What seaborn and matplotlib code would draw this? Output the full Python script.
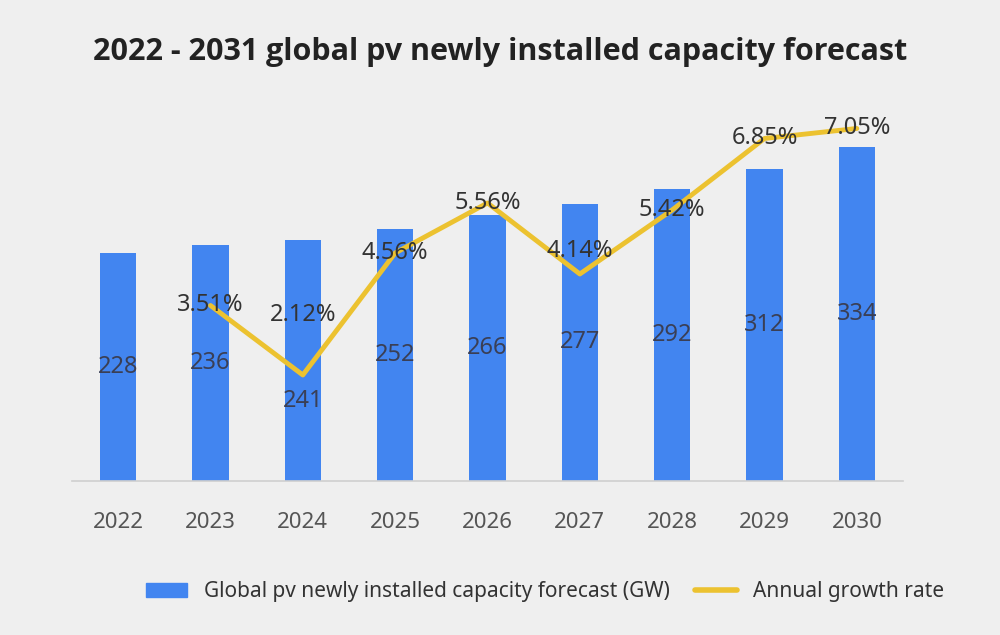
import numpy as np
import pandas as pd
import matplotlib
matplotlib.use("Agg")
import matplotlib.pyplot as plt
from matplotlib.patches import Patch
from matplotlib.lines import Line2D
import seaborn as sns

# datos del gráfico
years = ["2022", "2023", "2024", "2025", "2026", "2027", "2028", "2029", "2030"]
capacity_gw = [228, 236, 241, 252, 266, 277, 292, 312, 334]
growth_years = ["2023", "2024", "2025", "2026", "2027", "2028", "2029", "2030"]
growth_rate = [3.51, 2.12, 4.56, 5.56, 4.14, 5.42, 6.85, 7.05]

bar_color = "#4285f0"
line_color = "#ecc230"
bg_color = "#efefef"
text_color = "#333333"

sns.set_theme(style="white")
plt.rcParams["font.family"] = ["Noto Sans", "DejaVu Sans"]

df = pd.DataFrame({"year": years, "capacity": capacity_gw})
dg = pd.DataFrame({"pos": [years.index(y) for y in growth_years], "rate": growth_rate})

fig = plt.figure(figsize=(10, 6.35), dpi=100, facecolor=bg_color)
ax = fig.add_axes([0.072, 0.2425, 0.831, 0.567])
ax.set_facecolor(bg_color)

sns.barplot(data=df, x="year", y="capacity", color=bar_color, width=0.39,
            saturation=1, linewidth=0, ax=ax)
ax.set_xlim(-0.5, 8.5)
ax.set_ylim(0, 360)
ax.set_xlabel("")
ax.set_ylabel("")
ax.set_yticks([])
for s in ["top", "right", "left"]:
    ax.spines[s].set_visible(False)
ax.spines["bottom"].set_color("#cfcfcf")
ax.spines["bottom"].set_linewidth(1.2)
ax.tick_params(axis="x", length=0, pad=22, labelsize=16, labelcolor="#555555")

# etiquetas de las barras (centradas)
bar_offsets = {2: -40}
for i, v in enumerate(capacity_gw):
    ax.text(i, v / 2 + bar_offsets.get(i, 0), str(v), ha="center", va="center",
            fontsize=17, color="#3a3f55")

ax2 = ax.twinx()
sns.lineplot(data=dg, x="pos", y="rate", color=line_color, linewidth=3.5, ax=ax2)
ax2.set_ylim(0, 7.2)
ax2.set_xlim(-0.5, 8.5)
ax2.set_ylabel("")
ax2.set_yticks([])
for s in ["top", "right", "left", "bottom"]:
    ax2.spines[s].set_visible(False)

rate_offsets = {1: 1.2, 4: 0.45}
for p, r in zip(dg["pos"], growth_rate):
    ax2.text(p, r + rate_offsets.get(p - 1, 0), f"{r:.2f}%", ha="center", va="center",
             fontsize=17, color=text_color)

fig.text(0.5, 0.918, "2022 - 2031 global pv newly installed capacity forecast",
         ha="center", va="center", fontsize=22, fontweight="bold", color="#222222",
         family=["Open Sans", "DejaVu Sans"])

handles = [Patch(facecolor=bar_color, edgecolor=bar_color),
           Line2D([0], [0], color=line_color, linewidth=4)]
labels = ["Global pv newly installed capacity forecast (GW)", "Annual growth rate"]
fig.legend(handles, labels, loc="center", bbox_to_anchor=(0.545, 0.068), ncol=2,
           frameon=False, fontsize=15, handlelength=2.0, columnspacing=1.2,
           labelcolor="#333333")

plt.savefig("out.png", dpi=100, facecolor=bg_color)
